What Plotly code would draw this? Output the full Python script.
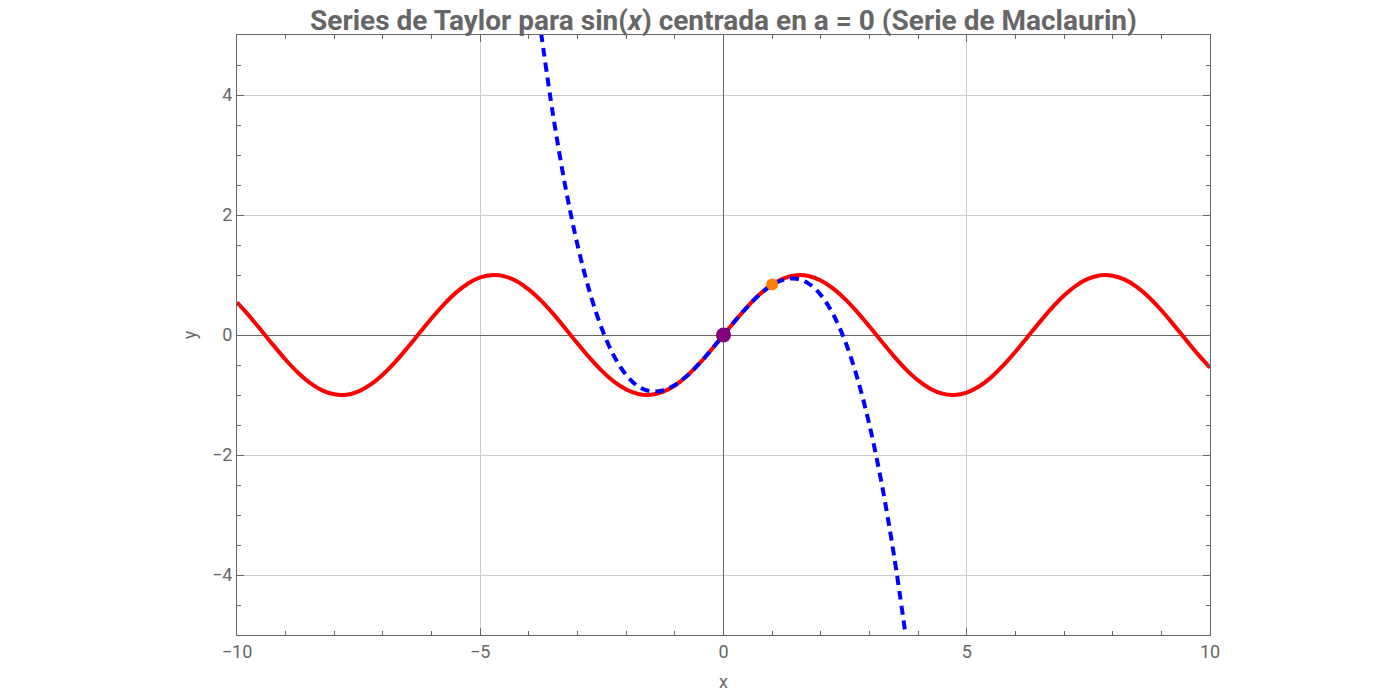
"""
Serie de Taylor (Maclaurin) de sin(x), grado 3, frente a la función original.
"""

import plotly.graph_objects as go

# sin(x), valores
sin_x = [-10, -9.75, -9.5, -9.25, -9, -8.75, -8.5, -8.25, -8, -7.75, -7.5, -7.25,
         -7, -6.75, -6.5, -6.25, -6, -5.75, -5.5, -5.25, -5, -4.75, -4.5, -4.25,
         -4, -3.75, -3.5, -3.25, -3, -2.75, -2.5, -2.25, -2, -1.75, -1.5, -1.25,
         -1, -0.75, -0.5, -0.25, 0, 0.25, 0.5, 0.75, 1, 1.25, 1.5, 1.75, 2, 2.25,
         2.5, 2.75, 3, 3.25, 3.5, 3.75, 4, 4.25, 4.5, 4.75, 5, 5.25, 5.5, 5.75,
         6, 6.25, 6.5, 6.75, 7, 7.25, 7.5, 7.75, 8, 8.25, 8.5, 8.75, 9, 9.25,
         9.5, 9.75, 10]
sin_y = [0.544, 0.319, 0.075, -0.173, -0.412, -0.625, -0.798, -0.922, -0.989,
         -0.995, -0.938, -0.823, -0.657, -0.451, -0.215, 0.033, 0.279, 0.508,
         0.706, 0.859, 0.959, 0.999, 0.978, 0.895, 0.757, 0.572, 0.351, 0.108,
         -0.141, -0.382, -0.598, -0.778, -0.909, -0.984, -0.997, -0.949, -0.841,
         -0.682, -0.479, -0.247, 0.0, 0.247, 0.479, 0.682, 0.841, 0.949, 0.997,
         0.984, 0.909, 0.778, 0.598, 0.382, 0.141, -0.108, -0.351, -0.572,
         -0.757, -0.895, -0.978, -0.999, -0.959, -0.859, -0.706, -0.508, -0.279,
         -0.033, 0.215, 0.451, 0.657, 0.823, 0.938, 0.995, 0.989, 0.922, 0.798,
         0.625, 0.412, 0.173, -0.075, -0.319, -0.544]

# polinomio de Taylor (curva discontinua azul)
taylor_x = [-3.75, -3.5, -3.25, -3, -2.75, -2.5, -2.25, -2, -1.75, -1.5, -1.25,
            -1, -0.75, -0.5, -0.25, 0, 0.25, 0.5, 0.75, 1, 1.25, 1.5, 1.75, 2,
            2.25, 2.5, 2.75, 3, 3.25, 3.5, 3.75]
taylor_y = [5.04, 3.65, 2.47, 1.5, 0.716, 0.104, -0.352, -0.667, -0.857, -0.938,
            -0.924, -0.833, -0.68, -0.479, -0.247, 0.0, 0.247, 0.479, 0.68,
            0.833, 0.924, 0.938, 0.857, 0.667, 0.352, -0.104, -0.716, -1.5,
            -2.47, -3.65, -5.04]

# puntos marcados
center_x, center_y = [0], [0]
point_x, point_y = [1], [0.84]

GRAY = "#666666"

fig = go.Figure()
fig.add_trace(go.Scatter(x=sin_x, y=sin_y, mode="lines", line_shape="spline",
                         line=dict(color="red", width=4), showlegend=False))
fig.add_trace(go.Scatter(x=taylor_x, y=taylor_y, mode="lines", line_shape="spline",
                         line=dict(color="blue", width=4, dash="9px,6px"),
                         showlegend=False))
fig.add_trace(go.Scatter(x=center_x, y=center_y, mode="markers",
                         marker=dict(color="purple", size=15), showlegend=False))
fig.add_trace(go.Scatter(x=point_x, y=point_y, mode="markers",
                         marker=dict(color="#ff8000", size=12), showlegend=False))

axis_common = dict(
    showline=True, linecolor=GRAY, linewidth=1, mirror="allticks",
    ticks="inside", ticklen=7, tickcolor=GRAY,
    showgrid=True, gridcolor="#cccccc", gridwidth=1,
    zeroline=True, zerolinecolor=GRAY, zerolinewidth=1,
    tickfont=dict(size=18, color=GRAY),
    title_font=dict(size=18, color=GRAY),
    automargin=False,
)

fig.update_xaxes(range=[-10, 10], dtick=5, title_text="x", title_standoff=28,
                 minor=dict(dtick=1, ticks="inside", ticklen=4, tickcolor=GRAY),
                 **axis_common)
fig.update_yaxes(range=[-5, 5], dtick=2, title_text="y", title_standoff=10,
                 minor=dict(dtick=0.5, ticks="inside", ticklen=4, tickcolor=GRAY),
                 **axis_common)

fig.update_layout(
    width=1384, height=684,
    font=dict(family="Roboto", color=GRAY),
    title=dict(text="<b>Series de Taylor para sin(<i>x</i>) centrada en a = 0 (Serie de Maclaurin)</b>",
               x=0.5, xref="paper", xanchor="center",
               y=0.982, yref="container", yanchor="middle",
               font=dict(size=28, color=GRAY)),
    plot_bgcolor="white", paper_bgcolor="white",
    margin=dict(l=229, r=182, t=27, b=57),
)

fig.write_html("out.html")
